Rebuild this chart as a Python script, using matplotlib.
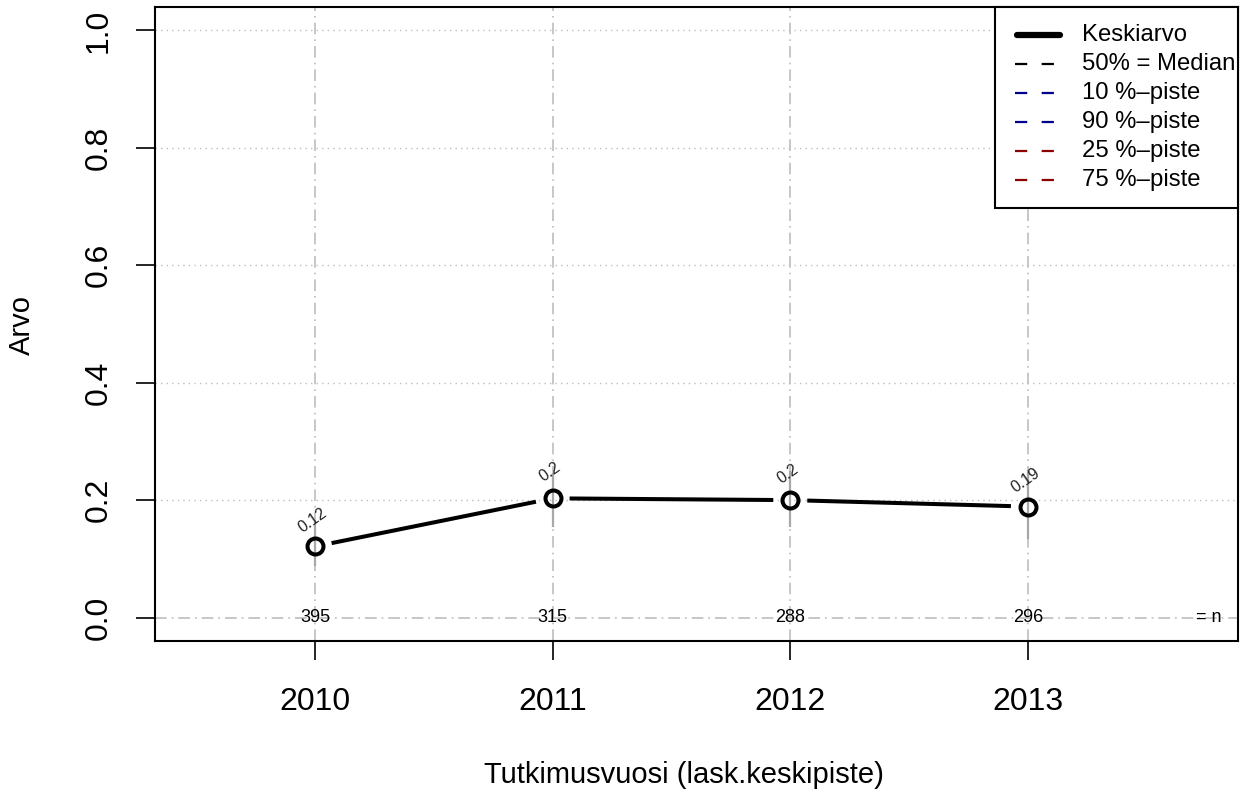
import matplotlib
matplotlib.use("Agg")
import matplotlib.pyplot as plt
import numpy as np
from matplotlib.lines import Line2D
from matplotlib.patches import Rectangle

plt.rcParams['font.family'] = ['Liberation Sans', 'DejaVu Sans']

# ---- data ----
years = [2010, 2011, 2012, 2013]
means = [0.121, 0.203, 0.200, 0.189]
mean_labels = ["0.12", "0.2", "0.2", "0.19"]
range_low = [0.087, 0.155, 0.155, 0.133]
range_high = [0.162, 0.247, 0.250, 0.252]
n_values = [395, 315, 288, 296]
yticks = [0.0, 0.2, 0.4, 0.6, 0.8, 1.0]
legend_labels = ["Keskiarvo", "50% = Median", "10 %\u2013piste", "90 %\u2013piste",
                 "25 %\u2013piste", "75 %\u2013piste"]
legend_colors = ["black", "black", "#00008B", "#00008B", "#8B0000", "#8B0000"]

W, H = 1244, 794
fig = plt.figure(figsize=(W / 100, H / 100), dpi=100)
ax = fig.add_axes([155 / W, 1 - 641 / H, (1238 - 155) / W, (641 - 7) / H])
ax.set_xlim(2009.327, 2013.884)
ax.set_ylim(-0.04, 1.04)

grid_gray = "#BEBEBE"
for yv in yticks[1:]:
    ax.axhline(yv, color=grid_gray, lw=1.0, linestyle=(0, (1, 3)), zorder=1)
ax.axhline(0, color=grid_gray, lw=1.2, linestyle=(0, (7, 3, 1, 3)), zorder=1)
for xv in years:
    ax.axvline(xv, color=grid_gray, lw=1.2, linestyle=(0, (7, 3, 1, 3)), zorder=1)

# gray range lines
for x, lo, hi in zip(years, range_low, range_high):
    ax.plot([x, x], [lo, hi], color="#A8A8A8", lw=1.6, zorder=2, solid_capstyle='butt')

# mean line with gaps near points (type "b")
fig.canvas.draw()
trans = ax.transData
inv = trans.inverted()
pts = trans.transform(np.column_stack([years, means]))
gap = 17
for i in range(len(pts) - 1):
    p0, p1 = pts[i], pts[i + 1]
    d = p1 - p0
    L = np.hypot(*d)
    u = d / L
    a = inv.transform(p0 + u * gap)
    b = inv.transform(p1 - u * gap)
    ax.plot([a[0], b[0]], [a[1], b[1]], color="black", lw=2.9, zorder=3,
            solid_capstyle='butt')

ax.plot(years, means, linestyle='none', marker='o', markersize=11.5,
        markerfacecolor='none', markeredgecolor='black', markeredgewidth=2.9, zorder=4)

for x, y, lab in zip(years, means, mean_labels):
    ax.annotate(lab, (x, y), xytext=(-2, 19), textcoords='offset points',
                rotation=35, ha='center', va='center', fontsize=11.5, color="#222222",
                zorder=5, rotation_mode='anchor')

for x, n in zip(years, n_values):
    ax.text(x, 0, str(n), ha='center', va='center', fontsize=13, zorder=5)
ax.text(2013.76, 0, "= n", ha='center', va='center', fontsize=13, zorder=5)

for s in ax.spines.values():
    s.set_linewidth(1.5)
    s.set_color('black')
ax.set_xticks(years)
ax.set_xticklabels([str(y) for y in years], fontsize=23)
ax.set_yticks(yticks)
ax.set_yticklabels([f"{v:.1f}" for v in yticks], fontsize=23, rotation=90, va='center')
ax.tick_params(axis='both', direction='out', length=14, width=1.2, color='black')
ax.tick_params(axis='x', pad=19)
ax.tick_params(axis='y', pad=16)

fig.text(684 / W, 1 - 775 / H, "Tutkimusvuosi (lask.keskipiste)", ha='center', va='center',
         fontsize=21)
fig.text(22 / W, 1 - 325 / H, "Arvo", ha='center', va='center', rotation=90, fontsize=21)

# manual R-style legend (pixel layout)
def fx(px):
    return px / W


def fy(py):
    return 1 - py / H


box = Rectangle((fx(995), fy(208)), fx(1238) - fx(995), fy(7) - fy(208),
                transform=fig.transFigure, facecolor='white', edgecolor='black',
                linewidth=1.5, zorder=10)
fig.patches.append(box)
row0, step = 35, 29.0
for i, (lab, col) in enumerate(zip(legend_labels, legend_colors)):
    yy = fy(row0 + i * step)
    if i == 0:
        ln = Line2D([fx(1017), fx(1060)], [yy, yy], color=col, lw=4.5,
                    solid_capstyle='round', transform=fig.transFigure, zorder=11)
    else:
        ln = Line2D([fx(1015), fx(1062)], [yy, yy], color=col, lw=1.6,
                    linestyle=(0, (5.5, 6.5)), transform=fig.transFigure, zorder=11)
    fig.lines.append(ln)
    fig.text(fx(1082), yy, lab, ha='left', va='center', fontsize=17.2, zorder=12)

fig.savefig("out.png", dpi=100)
